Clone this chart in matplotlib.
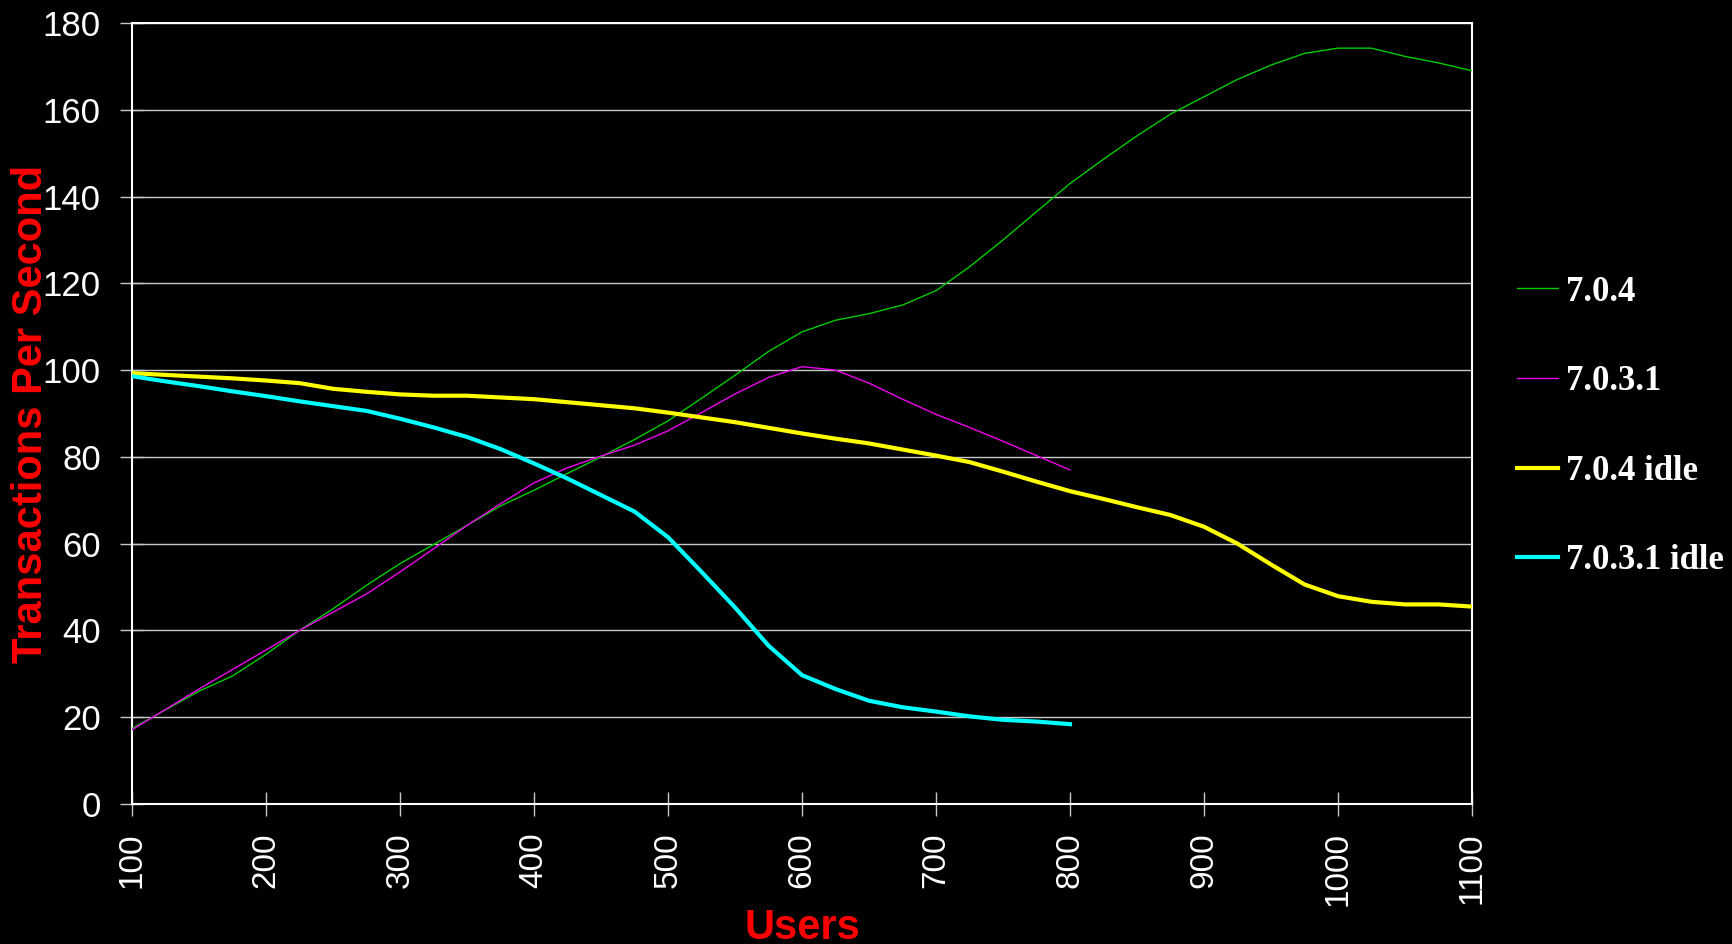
import matplotlib
matplotlib.use("Agg")
import matplotlib.pyplot as plt

# load test: throughput vs. number of users
users = [100, 125, 150, 175, 200, 225, 250, 275, 300, 325, 350, 375, 400,
         425, 450, 475, 500, 525, 550, 575, 600, 625, 650, 675, 700, 725,
         750, 775, 800, 825, 850, 875, 900, 925, 950, 975, 1000, 1025, 1050,
         1075, 1100]
users_short = users[:29]  # 100..800

tps_704 = [17.4, 21.7, 26.0, 29.5, 34.5, 40.0, 45.0, 50.4, 55.4, 59.8, 64.2,
           68.7, 72.3, 76.2, 80.0, 84.0, 88.3, 93.5, 98.8, 104.3, 108.8,
           111.5, 113.0, 115.0, 118.3, 123.8, 130.0, 136.5, 143.0, 148.6,
           154.0, 159.0, 163.0, 167.0, 170.3, 173.0, 174.2, 174.2, 172.3,
           170.8, 169.0]
tps_7031 = [17.1, 21.8, 26.5, 31.0, 35.5, 40.0, 44.2, 48.4, 53.5, 58.8, 64.2,
            69.2, 74.0, 77.5, 80.2, 82.7, 86.0, 90.2, 94.5, 98.3, 100.8,
            100.0, 97.0, 93.3, 89.8, 86.8, 83.6, 80.3, 77.0]
tps_704_idle = [99.3, 98.9, 98.5, 98.1, 97.6, 97.0, 95.7, 95.0, 94.4, 94.1,
                94.1, 93.7, 93.3, 92.6, 91.9, 91.2, 90.2, 89.1, 88.0, 86.7,
                85.4, 84.2, 83.1, 81.7, 80.3, 78.8, 76.6, 74.3, 72.1, 70.3,
                68.4, 66.6, 63.9, 60.0, 55.2, 50.6, 47.9, 46.6, 46.0, 46.0,
                45.5]
tps_7031_idle = [98.6, 97.4, 96.3, 95.1, 94.0, 92.8, 91.7, 90.6, 88.8, 86.8,
                 84.6, 81.8, 78.5, 75.0, 71.2, 67.4, 61.5, 53.5, 45.3, 36.5,
                 29.7, 26.5, 23.8, 22.3, 21.3, 20.2, 19.4, 19.0, 18.4]

fig = plt.figure(figsize=(17.32, 9.44), dpi=100, facecolor="black")
ax = fig.add_axes([132 / 1732, 1 - 804 / 944, 1340 / 1732, 781 / 944])
ax.set_facecolor("black")

ax.plot(users, tps_704, color="#00cc00", lw=1.0, label="7.0.4", zorder=3)
ax.plot(users_short, tps_7031, color="#ee00ee", lw=1.0, label="7.0.3.1", zorder=3)
ax.plot(users, tps_704_idle, color="#ffff00", lw=3.0, label="7.0.4 idle", zorder=3)
ax.plot(users_short, tps_7031_idle, color="#00ffff", lw=3.0, label="7.0.3.1 idle",
        zorder=3)

ax.set_xlim(100, 1100)
ax.set_ylim(0, 180)
ax.set_xticks(range(100, 1101, 100))
ax.set_yticks(range(0, 181, 20))
ax.yaxis.grid(True, color="#c8c8c8", lw=1.0)
ax.set_axisbelow(True)

for s in ax.spines.values():
    s.set_color("white")
    s.set_linewidth(1.5)

ax.tick_params(axis="both", direction="inout", length=17, width=1.0,
               color="#c8c8c8", labelcolor="white")
ax.tick_params(axis="y", pad=14, labelsize=25)
ax.tick_params(axis="x", pad=12, labelsize=24, labelrotation=90)
for lbl in ax.get_xticklabels() + ax.get_yticklabels():
    lbl.set_fontfamily("Liberation Sans")

ax.set_ylabel("Transactions Per Second", color="red", fontsize=30,
              fontweight="bold", fontfamily="Liberation Sans")
ax.yaxis.set_label_coords(-0.0605, 0.5)
ax.set_xlabel("Users", color="red", fontsize=30, fontweight="bold",
              fontfamily="Liberation Sans")
ax.xaxis.set_label_coords(0.5, -0.1335)

leg = ax.legend(loc="center left", bbox_to_anchor=(1517 / 1732, 1 - 426.5 / 944),
                bbox_transform=fig.transFigure, frameon=False, borderpad=0,
                borderaxespad=0, handlelength=1.18, handletextpad=0.23,
                labelspacing=1.63,
                prop={"family": "Liberation Serif", "weight": "bold", "size": 25})
for t in leg.get_texts():
    t.set_color("white")

fig.savefig("out.png", dpi=100, facecolor="black")
